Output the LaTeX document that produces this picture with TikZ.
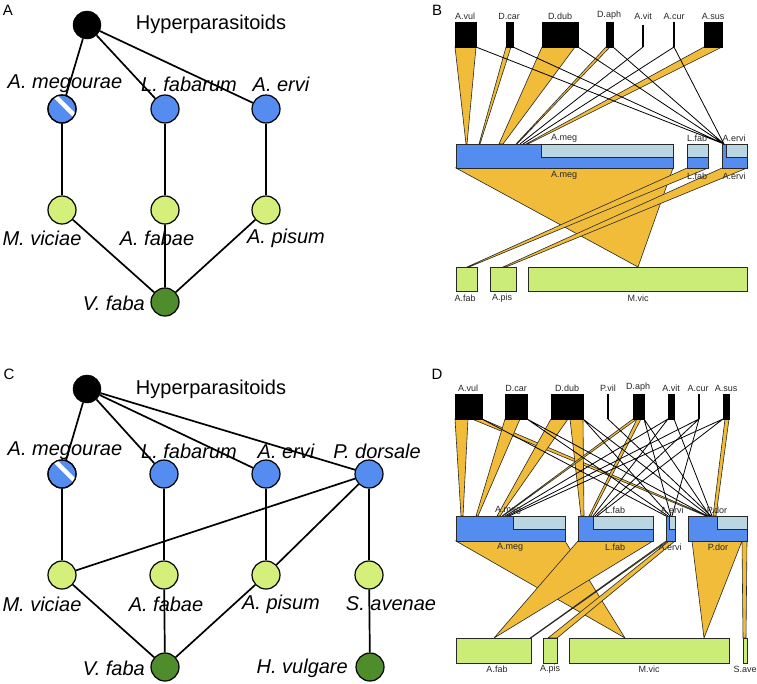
\documentclass[tikz,border=0pt]{standalone}
\usepackage{fontspec}
\setmainfont{Liberation Sans}
\definecolor{pblue}{RGB}{84,140,240}
\definecolor{lblue}{RGB}{186,214,226}
\definecolor{aphg}{RGB}{212,240,122}
\definecolor{barg}{RGB}{204,236,120}
\definecolor{plg}{RGB}{78,140,44}
\definecolor{orng}{RGB}{240,188,58}
\definecolor{outl}{RGB}{40,40,40}
\tikzset{
 hypn/.style={circle,fill=black,draw=black,minimum size=28pt,inner sep=0pt},
 paran/.style={circle,fill=pblue,draw=black,line width=1.2pt,minimum size=28pt,inner sep=0pt},
 aphn/.style={circle,fill=aphg,draw=black,line width=1.2pt,minimum size=28pt,inner sep=0pt},
 plantn/.style={circle,fill=plg,draw=black,line width=1.2pt,minimum size=28pt,inner sep=0pt},
 sp/.style={font=\fontsize{20}{24}\selectfont\itshape, inner sep=0pt},
 big/.style={font=\fontsize{20}{24}\selectfont, inner sep=0pt},
 web/.style={line width=1.7pt},
 panel/.style={font=\fontsize{15}{18}\selectfont, inner sep=0pt},
 tiny/.style={font=\fontsize{9}{10}\selectfont, text=outl, inner sep=0pt},
 hbox/.style={fill=black, draw=black, line width=0.5pt},
 hline/.style={draw=black, line width=1.3pt},
 pbar/.style={fill=pblue, draw=outl, line width=0.8pt},
 pins/.style={fill=lblue, draw=outl, line width=0.8pt},
 abox/.style={fill=barg, draw=outl, line width=0.8pt},
 qlk/.style={fill=orng, draw=outl, line width=0.6pt},
 tl/.style={draw=black, line width=0.8pt},
}
\newcommand\qlink[6]{\filldraw[qlk] (#1,#5)--(#2,#5)--(#4,#6)--(#3,#6)--cycle;}
\begin{document}
\begin{tikzpicture}[x=1pt,y=-1pt]
\useasboundingbox (0,0) rectangle (757,683);
\fill[white] (0,0) rectangle (757,683);

%================ Panel A
\node[panel] (labA) at (8,10) {A};
\node[hypn] (hypA) at (87,25) {};
\node[big] (hypAt) at (211,24) {Hyperparasitoids};
\node[paran] (megA) at (62,109) {};
\node[paran] (lfaA) at (165,109) {};
\node[paran] (aerA) at (266,109) {};
\node[aphn] (mvA) at (62,210) {};
\node[aphn] (afA) at (165,210) {};
\node[aphn] (apA) at (266,210) {};
\node[plantn] (vfA) at (165,302) {};
\node[sp] (megAt) at (65,84) {A. megourae};
\node[sp] (lfaAt) at (189,84) {L. fabarum};
\node[sp] (aerAt) at (281,84) {A. ervi};
\node[sp] (mvAt) at (42,238) {M. viciae};
\node[sp] (afAt) at (157,238) {A. fabae};
\node[sp] (apAt) at (286,238) {A. pisum};
\node[sp,anchor=east] (vfAt) at (145,303) {V. faba};
\draw[web] (hypA)--(megA) (hypA)--(lfaA) (hypA)--(aerA);
\draw[web] (megA)--(mvA) (lfaA)--(afA) (aerA)--(apA);
\draw[web] (mvA)--(vfA) (afA)--(vfA) (apA)--(vfA);
\begin{scope}
\clip (megA.center) circle (14pt);
\draw[white,line width=4.5pt] ([shift={(-17pt,23pt)}]megA.center) -- ([shift={(23pt,-17pt)}]megA.center);
\end{scope}
\draw[line width=1.2pt] (megA.center) circle (14pt);

%================ Panel C
\node[panel] (labC) at (9,374) {C};
\node[hypn] (hypC) at (87,389) {};
\node[big] (hypCt) at (211,389) {Hyperparasitoids};
\node[paran] (megC) at (62,474) {};
\node[paran] (lfaC) at (164,474) {};
\node[paran] (aerC) at (266,474) {};
\node[paran] (pdoC) at (369,474) {};
\node[aphn] (mvC) at (62,575) {};
\node[aphn] (afC) at (164,575) {};
\node[aphn] (apC) at (266,575) {};
\node[aphn] (saC) at (369,575) {};
\node[plantn] (vfC) at (165,667) {};
\node[plantn] (hvC) at (370,667) {};
\node[sp] (megCt) at (65,451) {A. megourae};
\node[sp] (lfaCt) at (189,451) {L. fabarum};
\node[sp] (aerCt) at (286,451) {A. ervi};
\node[sp] (pdoCt) at (377,451) {P. dorsale};
\node[sp] (mvCt) at (42,604) {M. viciae};
\node[sp] (afCt) at (166,604) {A. fabae};
\node[sp] (apCt) at (281,604) {A. pisum};
\node[sp] (saCt) at (391,604) {S. avenae};
\node[sp,anchor=east] (vfCt) at (145,668) {V. faba};
\node[sp,anchor=east] (hvCt) at (348,668) {H. vulgare};
\draw[web] (hypC)--(megC) (hypC)--(lfaC) (hypC)--(aerC) (hypC)--(pdoC);
\draw[web] (megC)--(mvC) (lfaC)--(afC) (aerC)--(apC) (pdoC)--(saC);
\draw[web] (pdoC)--(mvC) (pdoC)--(apC);
\draw[web] (mvC)--(vfC) (afC)--(vfC) (apC)--(vfC) (saC)--(hvC);
\begin{scope}
\clip (megC.center) circle (14pt);
\draw[white,line width=4.5pt] ([shift={(-17pt,23pt)}]megC.center) -- ([shift={(23pt,-17pt)}]megC.center);
\end{scope}
\draw[line width=1.2pt] (megC.center) circle (14pt);

%================ Panel B
\node[panel] (labB) at (437,10) {B};
% upper links
\qlink{455}{476}{466}{467}{47}{144}
\qlink{506}{511}{479}{480}{47}{144}
\qlink{542}{575}{499}{503}{47}{144}
\qlink{606}{610}{516}{517}{47}{144}
\qlink{704}{722}{526}{528}{47}{144}
\draw[tl] (476,47)--(724,144) (513,47)--(724,144) (578,47)--(724,144)
          (613,47)--(724,144) (674,47)--(724,144);
\draw[tl] (643,47)--(520,144) (674,47)--(523,144);
% hyperparasitoid boxes
\filldraw[hbox] (455,22) rectangle (476,47);
\filldraw[hbox] (506,22) rectangle (513,47);
\filldraw[hbox] (542,22) rectangle (578,47);
\filldraw[hbox] (606,22) rectangle (613,47);
\draw[hline] (643,25)--(643,47);
\draw[hline] (674,22)--(674,47);
\filldraw[hbox] (704,22) rectangle (722,47);
\node[tiny] (bAvul) at (465,16) {A.vul};
\node[tiny] (bDcar) at (509,16) {D.car};
\node[tiny] (bDdub) at (560,16) {D.dub};
\node[tiny] (bDaph) at (609,15) {D.aph};
\node[tiny] (bAvit) at (643,16) {A.vit};
\node[tiny] (bAcur) at (674,16) {A.cur};
\node[tiny] (bAsus) at (713,16) {A.sus};
% lower links
\qlink{456}{673}{638}{638}{168}{267}
\qlink{687}{708}{467}{469}{168}{267}
\qlink{722}{747}{503}{506}{168}{267}
% parasitoid bars
\filldraw[pbar] (456,144) rectangle (673,168);
\filldraw[pins] (541,144) rectangle (673,157);
\filldraw[pbar] (687,144) rectangle (708,168);
\filldraw[pins] (687,144) rectangle (708,157);
\filldraw[pbar] (722,144) rectangle (747,168);
\filldraw[pins] (726,144) rectangle (747,157);
\node[tiny] (bAmegU) at (564,138) {A.meg};
\node[tiny] (bLfabU) at (697,138) {L.fab};
\node[tiny] (bAervU) at (734,138) {A.ervi};
\node[tiny] (bAmegL) at (564,175) {A.meg};
\node[tiny] (bLfabL) at (697,176) {L.fab};
\node[tiny] (bAervL) at (734,176) {A.ervi};
% aphid boxes
\filldraw[abox] (456,267) rectangle (477,291);
\filldraw[abox] (490,267) rectangle (516,291);
\filldraw[abox] (528,267) rectangle (747,291);
\node[tiny] (bAfab) at (465,298) {A.fab};
\node[tiny] (bApis) at (502,298) {A.pis};
\node[tiny] (bMvic) at (638,298) {M.vic};

%================ Panel D
\node[panel] (labD) at (437,374) {D};
% upper links
\qlink{455}{468}{461}{463}{419}{516}
\qlink{472}{482}{706}{708}{419}{516}
\qlink{505}{520}{476}{478}{419}{516}
\qlink{551}{568}{497}{500}{419}{516}
\qlink{570}{583}{581}{584}{419}{516}
\qlink{633}{637}{502}{503}{419}{516}
\qlink{637}{641}{589}{591}{419}{516}
\qlink{725}{729}{713}{716}{419}{516}
\draw[tl] (482,419)--(666,516);
\draw[tl] (527,419)--(668,516) (527,419)--(707,516);
\draw[tl] (583,419)--(709,516) (583,419)--(670,516);
\draw[tl] (608,419)--(711,516);
\draw[tl] (644,419)--(710,516) (644,419)--(671,516);
\draw[tl] (668,419)--(505,516) (668,419)--(593,516) (674,419)--(712,516);
\draw[tl] (699,419)--(507,516) (699,419)--(595,516) (699,419)--(672,516);
\draw[tl] (723,419)--(509,516) (723,419)--(597,516);
% hyperparasitoid boxes
\filldraw[hbox] (455,394) rectangle (482,419);
\filldraw[hbox] (505,394) rectangle (527,419);
\filldraw[hbox] (551,394) rectangle (583,419);
\draw[hline] (608,394)--(608,419);
\filldraw[hbox] (633,394) rectangle (644,419);
\filldraw[hbox] (668,394) rectangle (674,419);
\draw[hline] (699,394)--(699,419);
\filldraw[hbox] (723,394) rectangle (729,419);
\node[tiny] (dAvul) at (468,388) {A.vul};
\node[tiny] (dDcar) at (516,388) {D.car};
\node[tiny] (dDdub) at (567,388) {D.dub};
\node[tiny] (dPvil) at (608,388) {P.vil};
\node[tiny] (dDaph) at (638,387) {D.aph};
\node[tiny] (dAvit) at (671,388) {A.vit};
\node[tiny] (dAcur) at (698,388) {A.cur};
\node[tiny] (dAsus) at (726,388) {A.sus};
% lower links
\qlink{456}{565}{625}{625}{541}{638}
\qlink{578}{653}{494}{494}{541}{638}
\qlink{666}{668}{530}{531}{541}{638}
\qlink{669}{675}{548}{557}{541}{638}
\qlink{692}{742}{704}{704}{541}{638}
\qlink{742}{747}{743}{746}{541}{638}
% parasitoid bars
\filldraw[pbar] (456,516) rectangle (565,541);
\filldraw[pins] (513,516) rectangle (565,529);
\filldraw[pbar] (578,516) rectangle (653,541);
\filldraw[pins] (593,516) rectangle (653,529);
\filldraw[pbar] (666,516) rectangle (675,541);
\filldraw[pins] (669,516) rectangle (675,529);
\filldraw[pbar] (688,516) rectangle (747,541);
\filldraw[pins] (717,516) rectangle (747,529);
\node[tiny] (dAmegU) at (508,510) {A.meg};
\node[tiny] (dLfabU) at (615,510) {L.fab};
\node[tiny] (dAervU) at (672,510) {A.ervi};
\node[tiny] (dPdorU) at (717,510) {P.dor};
\node[tiny] (dAmegL) at (510,547) {A.meg};
\node[tiny] (dLfabL) at (615,547) {L.fab};
\node[tiny] (dAervL) at (670,547) {A.ervi};
\node[tiny] (dPdorL) at (718,547) {P.dor};
% aphid boxes
\filldraw[abox] (456,638) rectangle (531,663);
\filldraw[abox] (543,638) rectangle (557,663);
\filldraw[abox] (569,638) rectangle (729,663);
\filldraw[abox] (743,638) rectangle (747,663);
\node[tiny] (dAfab) at (497,669) {A.fab};
\node[tiny] (dApis) at (550,669) {A.pis};
\node[tiny] (dMvic) at (649,669) {M.vic};
\node[tiny] (dSave) at (745,669) {S.ave};
\end{tikzpicture}
\end{document}
